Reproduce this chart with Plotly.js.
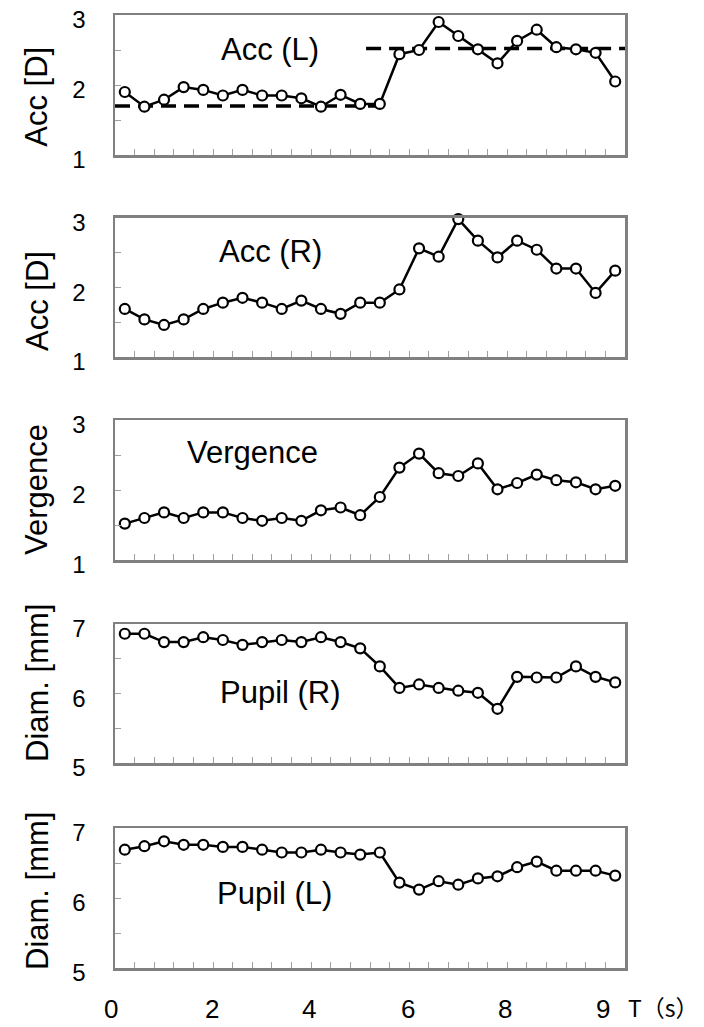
<!DOCTYPE html>
<html>
<head>
<meta charset="utf-8">
<script src="https://cdn.plot.ly/plotly-3.0.1.min.js"></script>
<style>html,body{margin:0;padding:0;background:#fff;}#chart{width:704px;height:1027px;}</style>
</head>
<body>
<div id="chart"></div>
<script>
// ---- data ----
const samples = [1,2,3,4,5,6,7,8,9,10,11,12,13,14,15,16,17,18,19,20,21,22,23,24,25,26];
const accL = [1.90,1.69,1.79,1.97,1.93,1.85,1.93,1.85,1.85,1.81,1.69,1.86,1.73,1.73,2.44,2.50,2.90,2.70,2.51,2.31,2.63,2.79,2.54,2.51,2.46,2.05];
const accR = [1.69,1.54,1.46,1.54,1.69,1.78,1.85,1.78,1.69,1.81,1.69,1.62,1.78,1.78,1.97,2.56,2.44,2.98,2.67,2.43,2.67,2.54,2.27,2.27,1.92,2.24];
const vergence = [1.52,1.60,1.68,1.60,1.68,1.68,1.60,1.56,1.60,1.56,1.71,1.75,1.64,1.90,2.32,2.52,2.24,2.20,2.38,2.01,2.10,2.22,2.14,2.11,2.01,2.06];
const pupilR = [6.86,6.86,6.74,6.74,6.81,6.77,6.70,6.74,6.77,6.74,6.81,6.74,6.65,6.39,6.08,6.13,6.08,6.04,6.01,5.78,6.24,6.23,6.23,6.39,6.24,6.16];
const pupilL = [6.69,6.74,6.81,6.76,6.76,6.73,6.73,6.69,6.65,6.65,6.69,6.65,6.62,6.65,6.22,6.12,6.24,6.19,6.28,6.31,6.44,6.52,6.39,6.39,6.39,6.32];

// Acc (L) mean levels before / after the step
const accLMeanLevels = [1.70, 2.52];
const accLMeanSpans = [[0.5, 14.2], [13.3, 26.5]];

const panelNames = ['Acc (L)', 'Acc (R)', 'Vergence', 'Pupil (R)', 'Pupil (L)'];
const panelNameAt = [[8.4, 2.51], [8.43, 2.51], [7.5, 2.53], [8.94, 6.01], [8.63, 6.06]];
const yTitles = ['Acc [D]', 'Acc [D]', 'Vergence', 'Diam. [mm]', 'Diam. [mm]'];
const yRanges = [[1, 3], [1, 3], [1, 3], [5, 7], [5, 7]];
const yTickVals = [[1, 1.5, 2, 2.5, 3], [1, 1.5, 2, 2.5, 3], [1, 1.5, 2, 2.5, 3], [5, 5.5, 6, 6.5, 7], [5, 5.5, 6, 6.5, 7]];
const yTickText = [['1', '', '2', '', '3'], ['1', '', '2', '', '3'], ['1', '', '2', '', '3'], ['5', '', '6', '', '7'], ['5', '', '6', '', '7']];
const xTickLabels = ['0', '2', '4', '6', '8', '9'];
const xTickAtSample = [0.3, 5.45, 10.4, 15.45, 20.4, 25.4];
const xUnitLabel = 'T（s）';

// ---- layout geometry ----
const W = 704, H = 1027;
const xDom = [115 / W, 625 / W];
const panelPx = [[15, 155], [217.7, 357], [420, 560], [624, 763], [828, 968]];
const titleCenterPx = [96.7, 301, 490, 683, 891];
const series = [accL, accR, vergence, pupilR, pupilL];

const font = 'Liberation Sans, Arial, sans-serif';
const boxColor = '#808080';

const meanTraces = [];
const dataTraces = [];
const layout = {
  width: W, height: H,
  margin: {l: 0, r: 0, t: 0, b: 0},
  paper_bgcolor: '#fff', plot_bgcolor: '#fff',
  showlegend: false,
  annotations: [],
  font: {family: font, color: '#000'}
};

series.forEach((vals, i) => {
  const n = i + 1;
  const xs = n === 1 ? 'x' : 'x' + n;
  const ys = n === 1 ? 'y' : 'y' + n;
  const xk = n === 1 ? 'xaxis' : 'xaxis' + n;
  const yk = n === 1 ? 'yaxis' : 'yaxis' + n;
  const dom = [1 - panelPx[i][1] / H, 1 - panelPx[i][0] / H];
  layout[xk] = {
    domain: xDom, anchor: ys, range: [0.5, 26.5],
    showline: true, mirror: true, linecolor: boxColor, linewidth: 2.5,
    tickmode: 'linear', tick0: 0.5, dtick: 1, ticks: 'inside', ticklen: 6,
    tickcolor: '#a0a0a0', tickwidth: 1, showticklabels: false,
    showgrid: false, zeroline: false, fixedrange: true
  };
  layout[yk] = {
    domain: dom, anchor: xs, range: yRanges[i],
    showline: true, mirror: true, linecolor: boxColor, linewidth: 2.5,
    tickmode: 'array', tickvals: yTickVals[i], ticktext: yTickText[i],
    ticks: 'inside', ticklen: 6, tickcolor: '#a0a0a0', tickwidth: 1,
    tickfont: {family: font, size: 24, color: '#000'},
    ticklabelstandoff: 22, ticklabelshift: 5, ticklabeloverflow: 'allow',
    showgrid: false, zeroline: false, fixedrange: true
  };
  dataTraces.push({
    type: 'scatter', mode: 'lines+markers', x: samples, y: vals,
    xaxis: xs, yaxis: ys, cliponaxis: false,
    line: {color: '#000', width: 2.5},
    marker: {symbol: 'circle', size: 10, color: '#fff', line: {color: '#000', width: 2.2}}
  });
  layout.annotations.push({
    xref: xs, yref: ys, x: panelNameAt[i][0], y: panelNameAt[i][1],
    text: panelNames[i], showarrow: false, xanchor: 'center', yanchor: 'middle',
    font: {family: font, size: 31, color: '#000'}
  });
  layout.annotations.push({
    xref: 'paper', yref: 'paper', x: 37 / W, y: 1 - titleCenterPx[i] / H,
    text: yTitles[i], showarrow: false, textangle: -90,
    xanchor: 'center', yanchor: 'middle',
    font: {family: font, size: 31, color: '#000'}
  });
});

// dashed mean levels on Acc (L), drawn beneath the data line
accLMeanLevels.forEach((lvl, k) => {
  meanTraces.push({
    type: 'scatter', mode: 'lines', x: accLMeanSpans[k], y: [lvl, lvl],
    xaxis: 'x', yaxis: 'y',
    line: {color: '#000', width: 3.5, dash: '15px,8px'}
  });
});

// x tick labels under the bottom panel, placed with the bottom axis mapping
const xPaper = s => xDom[0] + (s - 0.5) / 26 * (xDom[1] - xDom[0]);
xTickLabels.forEach((lab, k) => {
  layout.annotations.push({
    xref: 'paper', yref: 'paper', x: xPaper(xTickAtSample[k]), y: 1 - 1009 / H,
    text: lab, showarrow: false, xanchor: 'center', yanchor: 'middle',
    font: {family: font, size: 26, color: '#000'}
  });
});
layout.annotations.push({
  xref: 'paper', yref: 'paper', x: 663 / W, y: 1 - 1007 / H,
  text: xUnitLabel, showarrow: false, xanchor: 'center', yanchor: 'middle',
  font: {family: 'Noto Sans CJK JP, sans-serif', size: 23, color: '#000'}
});

Plotly.newPlot('chart', meanTraces.concat(dataTraces), layout, {staticPlot: true, displayModeBar: false});
</script>
</body>
</html>
